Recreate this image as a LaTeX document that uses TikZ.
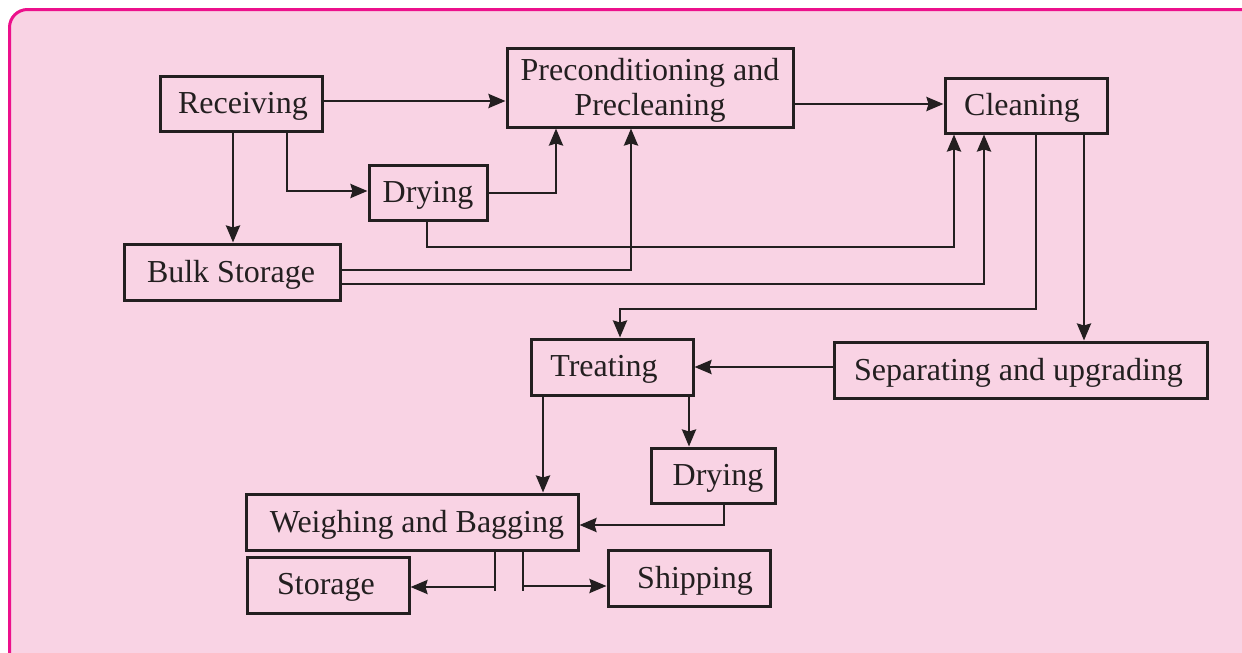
\documentclass[tikz,border=0pt]{standalone}
\usepackage{fontspec}
\setmainfont{Liberation Serif}
\usetikzlibrary{arrows.meta,calc}
\definecolor{ink}{HTML}{231F20}
\definecolor{framec}{HTML}{EC108C}
\definecolor{fillc}{HTML}{F9D3E4}
\tikzset{
  box/.style={draw=ink, line width=3pt, inner sep=0pt},
  lbl/.style={text=ink, font=\fontsize{32}{35}\selectfont, inner sep=0pt, align=center, yshift=-2.5pt},
  conn/.style={draw=ink, line width=2.7pt, -{Stealth[length=17pt,width=14pt,inset=2pt]}},
  plainline/.style={draw=ink, line width=2.7pt},
}
\begin{document}
\begin{tikzpicture}[x=1pt,y=-1pt]
\useasboundingbox (0,0) rectangle (1242,653);
\clip (0,0) rectangle (1242,653);
\fill[white] (0,0) rectangle (1242,653);
\draw[framec, line width=3pt, fill=fillc, rounded corners=18pt] (9.5,9.5) rectangle (1300,700);

% boxes
\node[box, minimum width=162pt, minimum height=55pt, label={[lbl,xshift=2pt]center:Receiving}] (rec) at (241,103.5) {};
\node[box, minimum width=286pt, minimum height=79pt, label={[lbl]center:{Preconditioning and\\Precleaning}}] (pre) at (650,87.5) {};
\node[box, minimum width=162pt, minimum height=55pt, label={[lbl,xshift=-4pt]center:Cleaning}] (cln) at (1026,105.5) {};
\node[box, minimum width=118pt, minimum height=55pt, label={[lbl]center:Drying}] (dry1) at (428,192.5) {};
\node[box, minimum width=216pt, minimum height=56pt, label={[lbl,xshift=-1pt]center:Bulk Storage}] (bulk) at (232,272) {};
\node[box, minimum width=162pt, minimum height=56pt, label={[lbl,xshift=-8pt]center:Treating}] (trt) at (612,367) {};
\node[box, minimum width=373pt, minimum height=56pt, label={[lbl,xshift=-2pt]center:Separating and upgrading}] (sep) at (1020.5,370) {};
\node[box, minimum width=124pt, minimum height=55pt, label={[lbl,xshift=5pt]center:Drying}] (dry2) at (713,475.5) {};
\node[box, minimum width=332pt, minimum height=56pt, label={[lbl,xshift=5pt]center:Weighing and Bagging}] (wgh) at (412,522) {};
\node[box, minimum width=162pt, minimum height=56pt, label={[lbl,xshift=-2pt]center:Storage}] (stor) at (328,585) {};
\node[box, minimum width=162pt, minimum height=56pt, label={[lbl,xshift=6pt]center:Shipping}] (ship) at (689,578) {};

% connectors
\draw[conn] (rec.east |- 0,101) -- (pre.west |- 0,101);
\draw[conn] (rec.south -| 233,0) -- (bulk.north -| 233,0);
\draw[conn] (rec.south -| 287,0) |- (dry1.west |- 0,191);
\draw[conn] (dry1.east |- 0,193) -| (pre.south -| 556,0);
\draw[conn] (dry1.south -| 427,0) -- (427,247) -| (cln.south -| 954,0);
\draw[conn] (bulk.east |- 0,270) -| (pre.south -| 631,0);
\draw[conn] (bulk.east |- 0,284) -| (cln.south -| 984,0);
\draw[conn] (pre.east |- 0,104) -- (cln.west |- 0,104);
\draw[conn] (cln.south -| 1036,0) -- (1036,309) -| (trt.north -| 620,0);
\draw[conn] (cln.south -| 1084,0) -- (sep.north -| 1084,0);
\draw[conn] (sep.west |- 0,367) -- (trt.east |- 0,367);
\draw[conn] (trt.south -| 543,0) -- (wgh.north -| 543,0);
\draw[conn] (trt.south -| 689,0) -- (dry2.north -| 689,0);
\draw[conn] (dry2.south -| 724,0) |- (wgh.east |- 0,525);
\draw[plainline] (wgh.south -| 495,0) -- (495,591);
\draw[conn] (495,587) -- (stor.east |- 0,587);
\draw[plainline] (wgh.south -| 523,0) -- (523,591);
\draw[conn] (523,586) -- (ship.west |- 0,586);
\end{tikzpicture}
\end{document}
